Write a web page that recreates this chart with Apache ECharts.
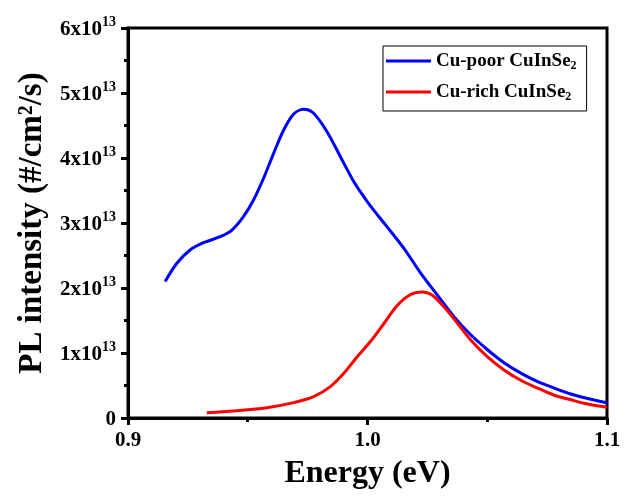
<!DOCTYPE html>
<html><head><meta charset="utf-8">
<script src="https://cdn.jsdelivr.net/npm/echarts@6/dist/echarts.min.js"></script>
<style>html,body{margin:0;padding:0;background:#fff}#c{width:626px;height:498px}</style>
</head><body><div id="c"></div>
<script>
// Energy (eV) and PL intensity (units of 1e13 #/cm^2/s)
const poorE = [0.9155,0.9204,0.9259,0.9315,0.9385,0.9434,0.9482,0.9524,0.9566,0.9608,0.9650,0.9692,0.9733,0.9775,0.9831,0.9887,0.9943,0.9999,1.0047,1.0082,1.0152,1.0222,1.0292,1.0361,1.0431,1.0501,1.0570,1.0640,1.0710,1.0780,1.0849,1.0919,1.1000];
const poorI = [2.10,2.38,2.585,2.697,2.789,2.892,3.097,3.354,3.688,4.072,4.431,4.677,4.749,4.688,4.405,4.020,3.635,3.33,3.10,2.94,2.61,2.23,1.89,1.56,1.28,1.05,0.85,0.69,0.56,0.46,0.37,0.30,0.235];
const richE = [0.9329,0.9441,0.9580,0.9692,0.9775,0.9845,0.9901,0.9957,1.0013,1.0068,1.0124,1.0180,1.0229,1.0271,1.0319,1.0375,1.0431,1.0501,1.0570,1.0640,1.0710,1.0780,1.0849,1.0919,1.1000];
const richI = [0.082,0.108,0.159,0.236,0.328,0.482,0.687,0.943,1.18,1.45,1.73,1.90,1.94,1.89,1.71,1.46,1.20,0.94,0.74,0.58,0.46,0.35,0.28,0.215,0.165];
const xTicks = [0.9,1.0,1.1];
const yTicks = [0,1,2,3,4,5,6];
const names = ['Cu-poor CuInSe', 'Cu-rich CuInSe'];

const font = '"Liberation Serif","Times New Roman",serif';
const chart = echarts.init(document.getElementById('c'));
const zip = (a,b)=>a.map((v,i)=>[v,b[i]*1e13]);
chart.setOption({
  animation:false,
  grid:{left:128,right:19,top:28,bottom:80,show:true,borderColor:'#000',borderWidth:3,backgroundColor:'transparent'},
  legend:{
    left:383, top:46, orient:'vertical', itemWidth:45, itemHeight:3, itemGap:9, icon:'rect',
    borderColor:'#000', borderWidth:1, padding:[4,10,8,3],
    data:names,
    formatter: n => n + '{sub|2}',
    textStyle:{fontFamily:font,fontWeight:'bold',fontSize:19,color:'#000',lineHeight:22,
      rich:{sub:{fontFamily:font,fontWeight:'bold',fontSize:12,color:'#000',verticalAlign:'bottom',lineHeight:22,padding:[10,0,0,0]}}}
  },
  xAxis:{
    type:'value',min:0.9,max:1.1,interval:0.1,
    name:'Energy (eV)',nameLocation:'middle',nameGap:40,
    nameTextStyle:{fontFamily:font,fontWeight:'bold',fontSize:32,color:'#000'},
    axisLine:{lineStyle:{color:'#000',width:3}},
    axisTick:{length:7,lineStyle:{width:3,color:'#000'}},
    minorTick:{show:true,splitNumber:2,length:4,lineStyle:{width:3,color:'#000'}},
    splitLine:{show:false},
    axisLabel:{fontFamily:font,fontWeight:'bold',fontSize:21,color:'#000',margin:12,
      formatter:v=>{const t=xTicks.find(x=>Math.abs(x-v)<1e-6);return t===undefined?'':t.toFixed(1);}}
  },
  yAxis:{
    type:'value',min:0,max:6e13,interval:1e13,
    name:'PL intensity (#/cm²/s)',nameLocation:'middle',nameGap:78,
    nameTextStyle:{fontFamily:font,fontWeight:'bold',fontSize:33,color:'#000'},
    axisLine:{lineStyle:{color:'#000',width:3}},
    axisTick:{length:7,lineStyle:{width:3,color:'#000'}},
    minorTick:{show:true,splitNumber:2,length:4,lineStyle:{width:3,color:'#000'}},
    splitLine:{show:false},
    axisLabel:{margin:12,
      formatter:v=>{const k=Math.round(v/1e13); if(!yTicks.includes(k))return ''; return k===0?'{a|0}':'{a|'+k+'x10}{s|13}';},
      rich:{a:{fontFamily:font,fontWeight:'bold',fontSize:21,color:'#000',padding:[4,0,0,0]},
            s:{fontFamily:font,fontWeight:'bold',fontSize:14,color:'#000',verticalAlign:'top',padding:[0,0,8,0]}}}
  },
  series:[
    {name:names[0],type:'line',data:zip(poorE,poorI),smooth:0.3,symbol:'none',lineStyle:{color:'#0000ff',width:3},itemStyle:{color:'#0000ff'}},
    {name:names[1],type:'line',data:zip(richE,richI),smooth:0.3,symbol:'none',lineStyle:{color:'#ff0000',width:3},itemStyle:{color:'#ff0000'}}
  ]
});
</script></body></html>
